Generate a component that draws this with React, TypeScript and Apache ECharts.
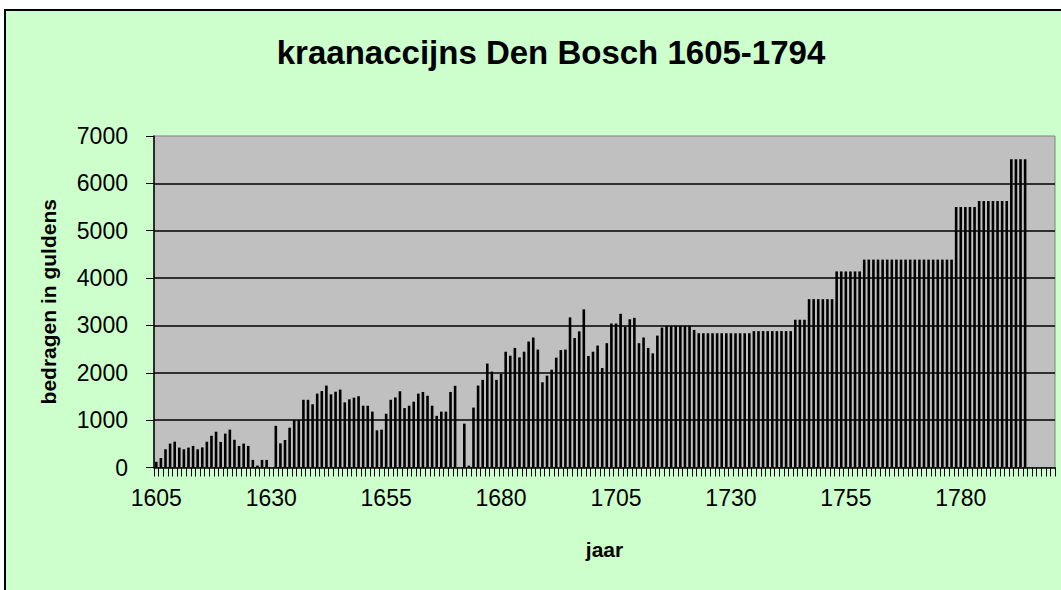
import React, { useEffect, useRef } from "react";
import * as echarts from "echarts";

const titleText = "kraanaccijns Den Bosch 1605-1794";
const yAxisTitle = "bedragen in guldens";
const xAxisTitle = "jaar";

const firstYear = 1605;
const lastCategoryYear = 1800;
const years: string[] = Array.from(
  { length: lastCategoryYear - firstYear + 1 },
  (_, i) => String(firstYear + i)
);

// kraanaccijns per jaar (gulden)
const values1605_1644 = [
  120, 200, 385, 505, 545, 420, 385, 420, 455, 385,
  425, 545, 670, 755, 540, 715, 800, 585, 455, 505,
  455, 160, 40, 160, 160, null, 880, 510, 580, 840,
  1000, 1000, 1430, 1430, 1335, 1560, 1615, 1730, 1545, 1600,
];
const values1645_1684 = [
  1645, 1375, 1440, 1475, 1505, 1305, 1305, 1180, 785, 800,
  1135, 1430, 1480, 1610, 1255, 1305, 1390, 1560, 1595, 1515,
  1305, 1090, 1180, 1180, 1595, 1725, null, 925, 40, 1265,
  1730, 1850, 2195, 2025, 1850, 1980, 2445, 2360, 2525, 2325,
];
const values1685_1724 = [
  2445, 2660, 2745, 2490, 1800, 1940, 2065, 2320, 2480, 2490,
  3170, 2735, 2875, 3340, 2355, 2445, 2575, 2100, 2625, 3040,
  3040, 3245, 2975, 3130, 3160, 2625, 2745, 2525, 2410, 2785,
  2955, 2990, 2990, 2990, 2990, 2990, 2990, 2905, 2835, 2835,
];
const values1725_1764 = [
  2835, 2835, 2835, 2835, 2835, 2835, 2835, 2835, 2835, 2835,
  2880, 2880, 2880, 2880, 2880, 2880, 2880, 2880, 2880, 3120,
  3120, 3120, 3555, 3555, 3555, 3555, 3555, 3555, 4140, 4140,
  4140, 4140, 4140, 4140, 4390, 4390, 4390, 4390, 4390, 4390,
];
const values1765_1794 = [
  4390, 4390, 4390, 4390, 4390, 4390, 4390, 4390, 4390, 4390,
  4390, 4390, 4390, 4390, 5500, 5500, 5500, 5500, 5500, 5630,
  5630, 5630, 5630, 5630, 5630, 5630, 6510, 6510, 6510, 6510,
];
const values1795_1800 = [null, null, null, null, null, null];

const yTicks = { min: 0, max: 7000, interval: 1000 };

const FONT = "'Liberation Sans', Arial, Helvetica, sans-serif";

export default function App() {
  const ref = useRef<HTMLDivElement>(null);
  useEffect(() => {
    document.body.style.margin = "0";
    if (!ref.current) return;
    const chart = echarts.init(ref.current, undefined, { renderer: "svg" });
    const data = [
      ...values1605_1644,
      ...values1645_1684,
      ...values1685_1724,
      ...values1725_1764,
      ...values1765_1794,
      ...values1795_1800,
    ];
    chart.setOption({
      animation: false,
      backgroundColor: "#ffffff",
      graphic: [
        {
          type: "rect",
          z: -10,
          silent: true,
          shape: { x: 5, y: 10, width: 1100, height: 700 },
          style: { fill: "#CCFFCC", stroke: "#000000", lineWidth: 2 },
        },
      ],
      title: {
        text: titleText,
        left: 546,
        top: 31,
        textAlign: "center",
        textStyle: {
          fontFamily: FONT,
          fontWeight: "bold",
          fontSize: 33,
          color: "#000",
        },
      },
      grid: {
        left: 154,
        right: 6,
        top: 136,
        bottom: 122.5,
        show: true,
        backgroundColor: "#C0C0C0",
        borderColor: "#808080",
        borderWidth: 1,
        containLabel: false,
      },
      xAxis: {
        type: "category",
        data: years,
        boundaryGap: true,
        name: xAxisTitle,
        nameLocation: "middle",
        nameGap: 71,
        nameTextStyle: {
          fontFamily: FONT,
          fontWeight: "bold",
          fontSize: 21,
          color: "#000",
        },
        axisLine: { show: true, lineStyle: { color: "#000", width: 1.5 } },
        axisTick: {
          show: true,
          interval: 0,
          length: 9,
          alignWithLabel: false,
          lineStyle: { color: "#000", width: 1 },
        },
        axisLabel: {
          interval: 24,
          margin: 19,
          fontFamily: FONT,
          fontSize: 23,
          color: "#000",
        },
        splitLine: { show: false },
      },
      yAxis: {
        type: "value",
        min: yTicks.min,
        max: yTicks.max,
        interval: yTicks.interval,
        name: yAxisTitle,
        nameLocation: "middle",
        nameGap: 95,
        nameRotate: 90,
        nameTextStyle: {
          fontFamily: FONT,
          fontWeight: "bold",
          fontSize: 21,
          color: "#000",
        },
        axisLine: { show: true, lineStyle: { color: "#000", width: 1.5 } },
        axisTick: { show: true, length: 8, lineStyle: { color: "#000", width: 1 } },
        axisLabel: {
          margin: 26,
          fontFamily: FONT,
          fontSize: 23,
          color: "#000",
          formatter: (v: number) => String(v),
        },
        splitLine: {
          show: true,
          showMaxLine: false,
          showMinLine: false,
          lineStyle: { color: "#000", width: 1.5 },
        },
      },
      series: [
        {
          type: "bar",
          data,
          barWidth: 2.6,
          itemStyle: {
            color: "#9999FF",
            borderColor: "#000000",
            borderWidth: 1.5,
          },
        },
      ],
    });
    return () => chart.dispose();
  }, []);
  return (
    <div
      ref={ref}
      style={{ position: "absolute", left: 0, top: 0, width: 1061, height: 590 }}
    />
  );
}
